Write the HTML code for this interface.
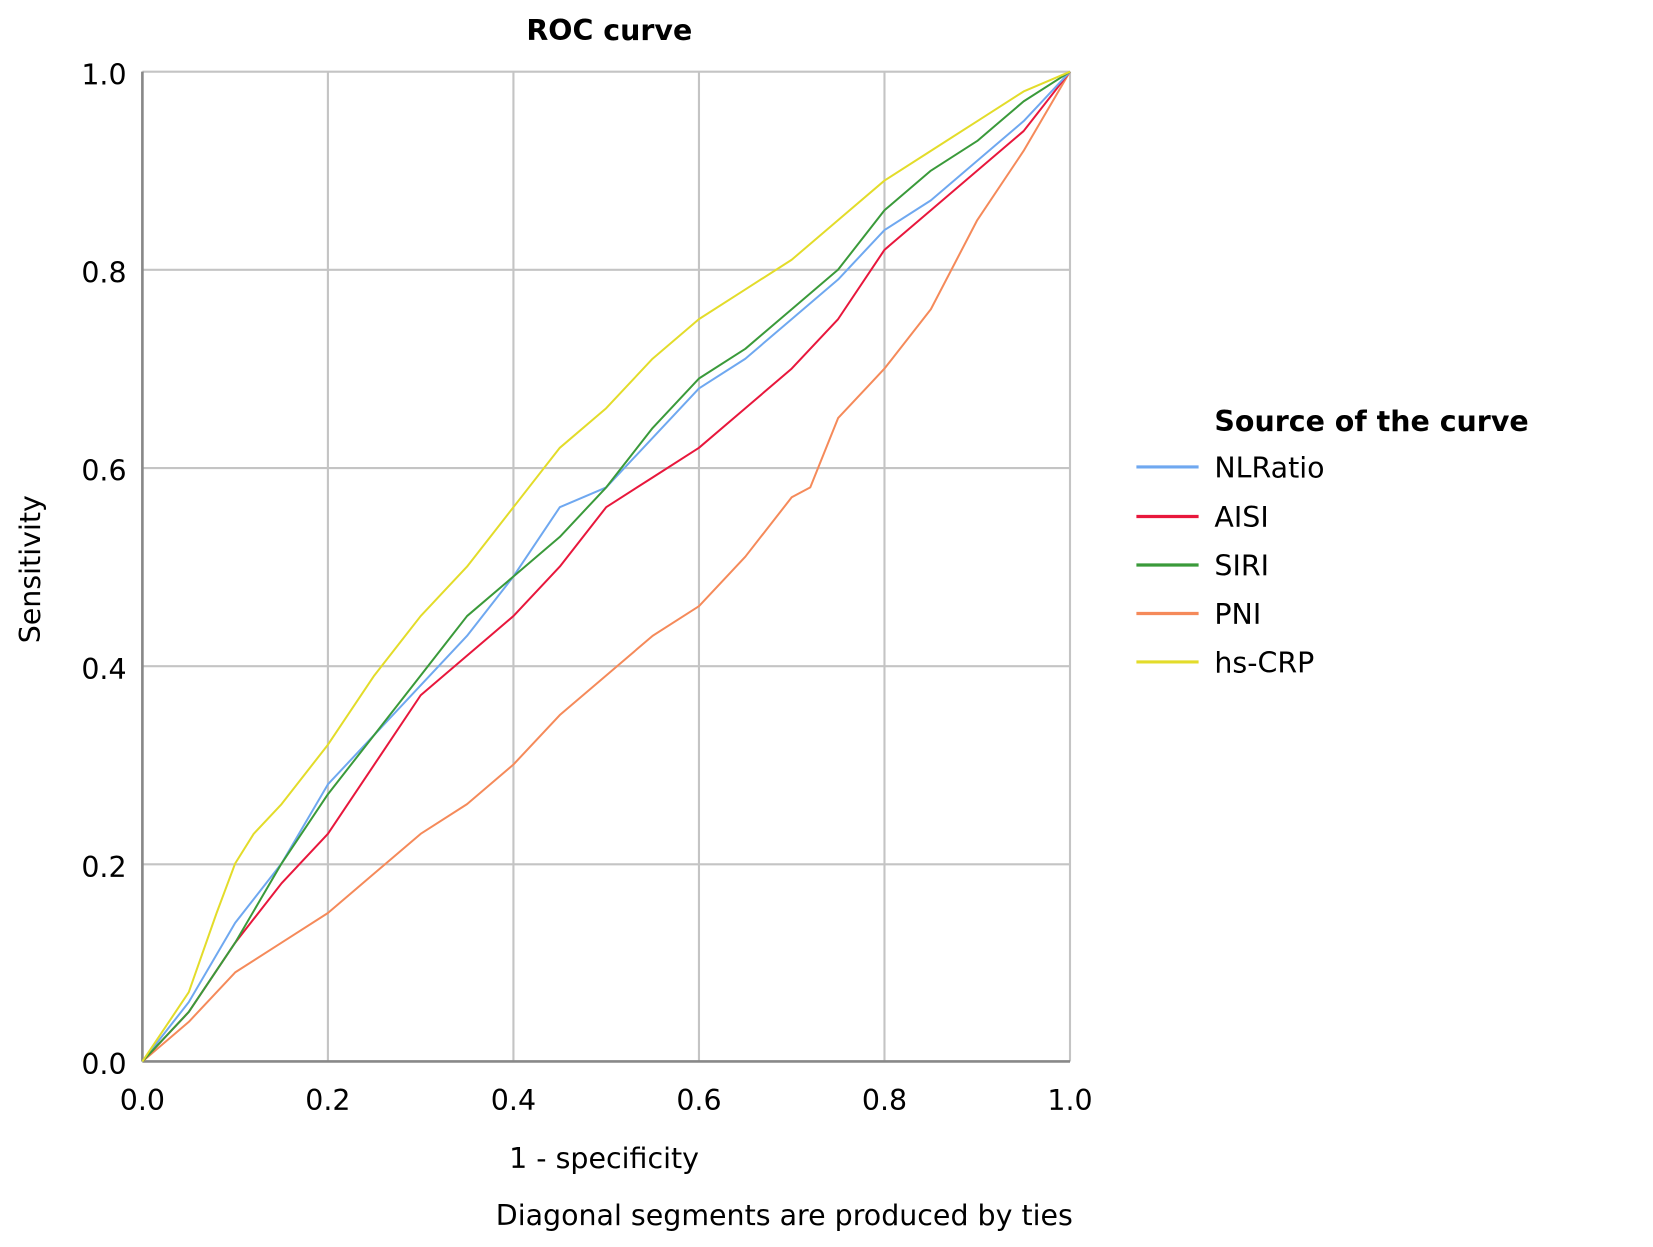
<!DOCTYPE html>
<html><head><meta charset="utf-8"><style>html,body{margin:0;padding:0;background:#fff}svg{display:block}</style></head>
<body>
<svg width="1653" height="1247" viewBox="0 0 1568 1183" xmlns="http://www.w3.org/2000/svg" font-family="'DejaVu Sans', 'Liberation Sans', sans-serif">
<rect width="1568" height="1183" fill="#fff"/>
<text x="578" y="38" font-size="27" font-weight="bold" text-anchor="middle">ROC curve</text>
<g stroke="#c4c4c4" stroke-width="2">
<line x1="311" y1="68" x2="311" y2="1007"/><line x1="487" y1="68" x2="487" y2="1007"/>
<line x1="663" y1="68" x2="663" y2="1007"/><line x1="839" y1="68" x2="839" y2="1007"/>
<line x1="1015" y1="68" x2="1015" y2="1007"/>
<line x1="135" y1="68" x2="1015" y2="68"/><line x1="135" y1="256" x2="1015" y2="256"/>
<line x1="135" y1="444" x2="1015" y2="444"/><line x1="135" y1="632" x2="1015" y2="632"/>
<line x1="135" y1="820" x2="1015" y2="820"/>
</g>
<g stroke="#888" stroke-width="2.5"><line x1="135" y1="68" x2="135" y2="1007"/><line x1="135" y1="1007" x2="1015" y2="1007"/></g>
<g font-size="27" text-anchor="end">
<text x="120" y="80">1.0</text><text x="120" y="268">0.8</text><text x="120" y="456">0.6</text>
<text x="120" y="644">0.4</text><text x="120" y="832">0.2</text><text x="120" y="1019">0.0</text>
</g>
<g font-size="27" text-anchor="middle">
<text x="135" y="1053">0.0</text><text x="311" y="1053">0.2</text><text x="487" y="1053">0.4</text>
<text x="663" y="1053">0.6</text><text x="839" y="1053">0.8</text><text x="1015" y="1053">1.0</text>
<text x="573" y="1108">1 - specificity</text>
<text x="744" y="1162">Diagonal segments are produced by ties</text>
</g>
<text transform="translate(38,540) rotate(-90)" font-size="27" text-anchor="middle">Sensitivity</text>
<g transform="translate(135,1007) scale(880,-939)" fill="none" stroke-width="2" stroke-linejoin="round">
<polyline vector-effect="non-scaling-stroke" stroke="#f58a5a" points="0,0 0.05,0.04 0.1,0.09 0.15,0.12 0.2,0.15 0.25,0.19 0.3,0.23 0.35,0.26 0.4,0.3 0.45,0.35 0.5,0.39 0.55,0.43 0.6,0.46 0.65,0.51 0.7,0.57 0.72,0.58 0.75,0.65 0.8,0.7 0.85,0.76 0.9,0.85 0.95,0.92 1,1"/>
<polyline vector-effect="non-scaling-stroke" stroke="#e8173c" points="0,0 0.05,0.05 0.1,0.12 0.15,0.18 0.2,0.23 0.25,0.3 0.3,0.37 0.35,0.41 0.4,0.45 0.45,0.5 0.5,0.56 0.55,0.59 0.6,0.62 0.65,0.66 0.7,0.7 0.75,0.75 0.8,0.82 0.85,0.86 0.9,0.9 0.95,0.94 1,1"/>
<polyline vector-effect="non-scaling-stroke" stroke="#6fa8f0" points="0,0 0.05,0.06 0.1,0.14 0.15,0.2 0.2,0.28 0.3,0.38 0.35,0.43 0.4,0.49 0.45,0.56 0.5,0.58 0.55,0.63 0.6,0.68 0.65,0.71 0.7,0.75 0.75,0.79 0.8,0.84 0.85,0.87 0.9,0.91 0.95,0.95 1,1"/>
<polyline vector-effect="non-scaling-stroke" stroke="#3a9a3a" points="0,0 0.05,0.05 0.1,0.12 0.15,0.2 0.2,0.27 0.25,0.33 0.3,0.39 0.35,0.45 0.4,0.49 0.45,0.53 0.5,0.58 0.55,0.64 0.6,0.69 0.65,0.72 0.7,0.76 0.75,0.8 0.8,0.86 0.85,0.9 0.9,0.93 0.95,0.97 1,1"/>
<polyline vector-effect="non-scaling-stroke" stroke="#e3dc2a" points="0,0 0.05,0.07 0.08,0.15 0.1,0.2 0.12,0.23 0.15,0.26 0.2,0.32 0.25,0.39 0.3,0.45 0.35,0.5 0.4,0.56 0.45,0.62 0.5,0.66 0.55,0.71 0.6,0.75 0.65,0.78 0.7,0.81 0.75,0.85 0.8,0.89 0.85,0.92 0.9,0.95 0.95,0.98 1,1"/>
</g>
<text x="1152" y="409" font-size="27" font-weight="bold">Source of the curve</text>
<g stroke-width="3">
<line x1="1078" y1="443" x2="1137" y2="443" stroke="#6fa8f0"/>
<line x1="1078" y1="490" x2="1137" y2="490" stroke="#e8173c"/>
<line x1="1078" y1="536" x2="1137" y2="536" stroke="#3a9a3a"/>
<line x1="1078" y1="582" x2="1137" y2="582" stroke="#f58a5a"/>
<line x1="1078" y1="628" x2="1137" y2="628" stroke="#e3dc2a"/>
</g>
<g font-size="27">
<text x="1152" y="453">NLRatio</text><text x="1152" y="500">AISI</text><text x="1152" y="546">SIRI</text>
<text x="1152" y="592">PNI</text><text x="1152" y="638">hs-CRP</text>
</g>
</svg>
</body></html>
